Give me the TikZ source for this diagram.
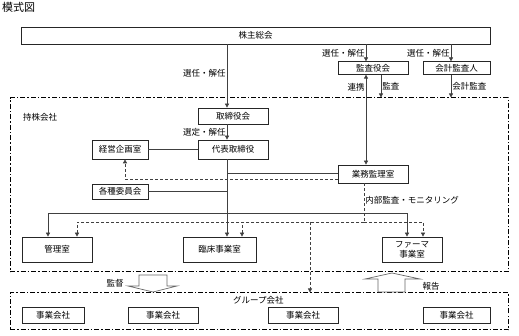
\documentclass[tikz,border=0pt]{standalone}
\usepackage{fontspec}
\setmainfont{Noto Sans CJK JP}
\usetikzlibrary{arrows.meta,positioning,calc}
\tikzset{
  box/.style={draw=black!85,line width=0.7pt,fill=white,align=center,
              inner sep=1pt,font=\fontsize{8.5}{10}\selectfont},
  frame/.style={draw=black,line width=1pt,dash pattern=on 5pt off 2pt on 1.5pt off 2pt},
  link/.style={line width=0.7pt,draw=black!75},
  arr/.style={link,-{Triangle[length=4pt,width=4pt]}},
  dlink/.style={link,dash pattern=on 3pt off 2pt},
  darr/.style={arr,dash pattern=on 3pt off 2pt},
  lbl/.style={font=\fontsize{8.5}{10}\selectfont,inner sep=1pt},
  fat/.style={draw=black!60,line width=0.7pt,fill=white},
}
\begin{document}
\begin{tikzpicture}[x=1pt,y=-1pt]
    \useasboundingbox (0,0) rectangle (519,336);
    \node[lbl,anchor=west,font=\fontsize{11}{12}\selectfont] (title) at (1,7) {模式図};
    \node[box,minimum width=469,minimum height=17] (sh) at (255.5,35.5) {株主総会};
    \node[box,minimum width=70,minimum height=12.5] (kansa) at (373,68) {監査役会};
    \node[box,minimum width=67,minimum height=12.5] (kaikei) at (456.5,68) {会計監査人};
    % holding company
    \node[frame,minimum width=498,minimum height=174] (hd) at (259,185) {};
    \node[lbl,anchor=west] (hdl) at (22,117) {持株会社};
    \node[box,minimum width=70,minimum height=16] (tori) at (233,116) {取締役会};
    \node[box,minimum width=70,minimum height=19] (daihyo) at (233,149.5) {代表取締役};
    \node[box,minimum width=56,minimum height=19] (keiei) at (120,149.5) {経営企画室};
    \node[box,minimum width=56,minimum height=15] (iin) at (120,191.5) {各種委員会};
    \node[box,minimum width=70,minimum height=18] (gyomu) at (373,174) {業務監理室};
    \node[box,minimum width=70,minimum height=25] (kanri) at (57,249.5) {管理室};
    \node[box,minimum width=73,minimum height=25] (rinsho) at (219.5,249.5) {臨床事業室};
    \node[box,minimum width=60,minimum height=25] (pharma) at (412,249.5) {ファーマ\\事業室};
    % group companies
    \node[frame,minimum width=498,minimum height=37] (grp) at (259,311.5) {};
    \node[lbl,anchor=west] (grpl) at (232,300) {グループ会社};
    \node[box,minimum width=62,minimum height=16] (j1) at (53,315) {事業会社};
    \node[box,minimum width=70,minimum height=16] (j2) at (163,315) {事業会社};
    \node[box,minimum width=70,minimum height=16] (j3) at (303,315) {事業会社};
    \node[box,minimum width=67,minimum height=16] (j4) at (456.5,315) {事業会社};

    \coordinate (sp) at (227,0);
    \coordinate (kv) at (366,0);
    \coordinate (kw) at (381,0);
    \coordinate (kz) at (451,0);
    \coordinate (gd) at (310,0);
    \coordinate (b1) at (0,213);
    \coordinate (b2) at (0,222);
    \coordinate (g1) at ($(gyomu.west)+(0,-1)$);
    \coordinate (g2) at ($(gyomu.west)+(0,5)$);
    \coordinate (gs) at ($(gyomu.south)+(-9,0)$);

    \draw[arr] (sh.south -| sp) -- node[lbl,left,pos=0.45]{選任・解任} (tori.north -| sp);
    \draw[arr] (sh.south -| kv) -- node[lbl,left]{選任・解任} (kansa.north -| kv);
    \draw[arr] (sh.south -| kz) -- node[lbl,left]{選任・解任} (kaikei.north -| kz);
    \draw[link,{Triangle[length=4pt,width=4pt]}-{Triangle[length=4pt,width=4pt]}]
      (kansa.south -| kv) -- node[lbl,left,pos=0.14]{連携} (gyomu.north -| kv);
    \draw[arr] (kansa.south -| kw) -- node[lbl,right]{監査} (hd.north -| kw);
    \draw[arr] (kaikei.south -| kz) -- node[lbl,right]{会計監査} (hd.north -| kz);
    \draw[arr] (tori.south -| sp) -- node[lbl,left]{選定・解任} (daihyo.north -| sp);
    \draw[link] (keiei) -- (daihyo);
    \draw[link] (iin.east) -- (iin.east -| sp);
    \draw[arr] (daihyo.south -| sp) -- (rinsho.north -| sp);
    \draw[link] (g1) -- (g1 -| sp);
    \draw[darr] (g2) -| ($(keiei.south)+(5,0)$);
    \draw[arr] (b1 -| sp) -| ($(kanri.north)+(-9,0)$);
    \draw[arr] (b1 -| sp) -| ($(pharma.north)+(-5,0)$);
    \draw[dlink] (gs) -- node[lbl,right,pos=0.45]{内部監査・モニタリング} (gs |- b2);
    \draw[darr] (gs |- b2) -| ($(kanri.north)+(20,0)$);
    \draw[darr] (gs |- b2) -| ($(rinsho.north)+(22.5,0)$);
    \draw[darr] (gs |- b2) -| ($(pharma.north)+(11,0)$);
    \draw[darr] (b2 -| gd) -- (grp.north -| gd);

    \draw[fat] (139,275) -- (167,275) -- (167,286) -- (177,286) -- (153,292)
      -- (128,286) -- (139,286) -- cycle;
    \node[lbl] (kantoku) at (115,283) {監督};
    \draw[fat] (378,292) -- (405,292) -- (405,279) -- (420,279) -- (392,273)
      -- (365,279) -- (378,279) -- cycle;
    \node[lbl] (hokoku) at (431,286) {報告};
  \end{tikzpicture}
\end{document}
